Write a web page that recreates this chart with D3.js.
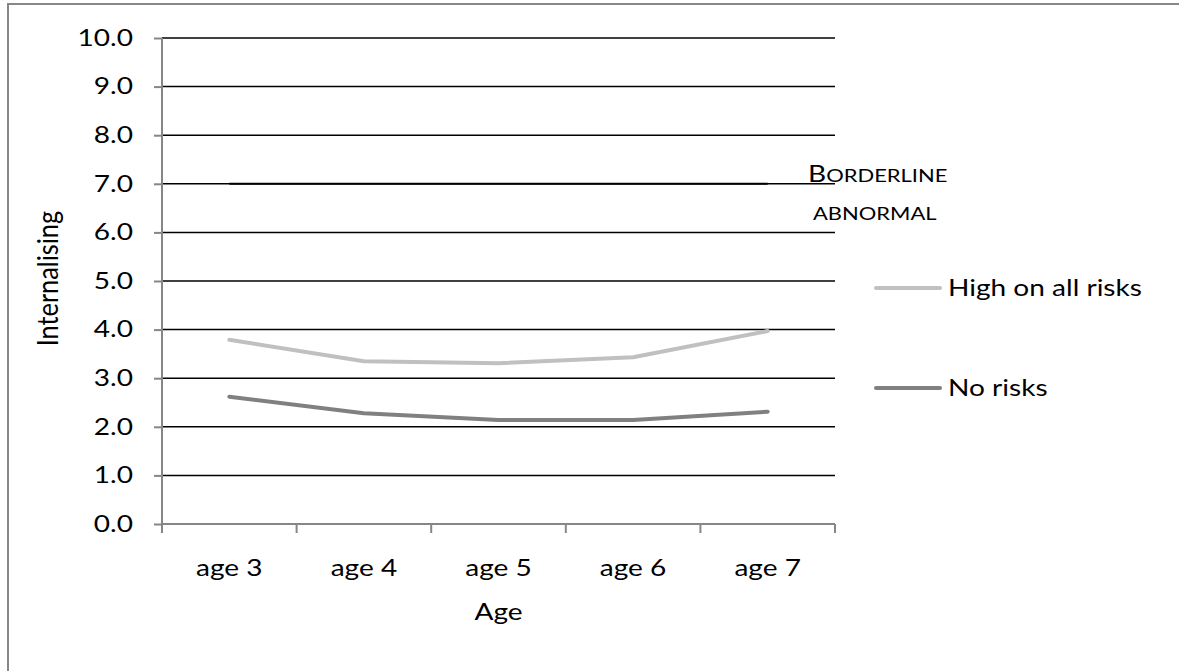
<!DOCTYPE html>
<html>
<head>
<meta charset="utf-8">
<script src="https://cdn.jsdelivr.net/npm/d3@7"></script>
<style>
  body { margin: 0; background: #fff; }
  svg text { font-family: Lato, "Open Sans", sans-serif; fill: #000; }
</style>
</head>
<body>
<svg width="1179" height="671"></svg>
<script>
var ages = ["age 3", "age 4", "age 5", "age 6", "age 7"];
var highRisk = [3.79, 3.35, 3.31, 3.43, 3.97];
var noRisk = [2.62, 2.28, 2.14, 2.14, 2.31];
var borderline = [7.0, 7.0, 7.0, 7.0, 7.0];
var yTicks = [0, 1, 2, 3, 4, 5, 6, 7, 8, 9, 10];

var series = [
  {name: "High on all risks", values: highRisk, color: "#c0c0c0", legendY: 288},
  {name: "No risks", values: noRisk, color: "#808080", legendY: 388}
];

var svg = d3.select("svg"),
    margin = {left: 162, right: 344, top: 38, bottom: 147},
    width = +svg.attr("width"),
    height = +svg.attr("height"),
    stretch = 1.22;  // the source picture is widened, so glyphs are too

var x = d3.scaleBand().domain(ages).range([margin.left, width - margin.right]);
var y = d3.scaleLinear().domain([0, 10]).range([height - margin.bottom, margin.top]);

// chart frame (right and bottom edges fall outside the picture)
svg.append("rect")
    .attr("x", 8).attr("y", 4)
    .attr("width", 1300).attr("height", 720)
    .attr("fill", "none")
    .attr("stroke", "#878787")
    .attr("stroke-width", 2);

// gridlines
svg.append("g")
    .selectAll("line")
    .data(yTicks.filter(function(d) { return d > 0; }))
    .enter()
    .append("line")
    .attr("x1", margin.left)
    .attr("x2", width - margin.right)
    .attr("y1", function(d) { return y(d); })
    .attr("y2", function(d) { return y(d); })
    .attr("stroke", "#000")
    .attr("stroke-width", 1.5);

// y axis
var yAxis = svg.append("g")
    .attr("transform", "translate(" + margin.left + ",0)")
    .call(d3.axisLeft(y).tickValues(yTicks).tickFormat(d3.format(".1f")).tickSize(8));
yAxis.selectAll("path, line").attr("stroke", "#868686").attr("stroke-width", 2);
yAxis.select(".domain").attr("d", "M0," + y(10) + "V" + y(0));
yAxis.selectAll("text")
    .attr("x", 0)
    .attr("transform", "translate(-29,0) scale(" + stretch + ",1)")
    .style("font-size", "23px")
    .attr("fill", "#000");

// x axis with ticks at category boundaries
var xAxisG = svg.append("g")
    .attr("transform", "translate(0," + y(0) + ")");
xAxisG.append("line")
    .attr("x1", margin.left).attr("x2", width - margin.right)
    .attr("stroke", "#868686").attr("stroke-width", 2);
xAxisG.selectAll(".tk")
    .data(ages.concat(["end"]))
    .enter()
    .append("line")
    .attr("class", "tk")
    .attr("x1", function(d, i) { return i < ages.length ? x(d) : x(ages[ages.length - 1]) + x.bandwidth(); })
    .attr("x2", function(d, i) { return i < ages.length ? x(d) : x(ages[ages.length - 1]) + x.bandwidth(); })
    .attr("y1", 0).attr("y2", 9)
    .attr("stroke", "#868686").attr("stroke-width", 2);
xAxisG.selectAll(".lbl")
    .data(ages)
    .enter()
    .append("text")
    .attr("class", "lbl")
    .attr("transform", function(d) {
      return "translate(" + (x(d) + x.bandwidth() / 2) + ",52) scale(" + stretch + ",1)";
    })
    .attr("text-anchor", "middle")
    .style("font-size", "23px")
    .text(function(d) { return d; });

// axis titles
svg.append("text")
    .attr("transform", "translate(" + (x(ages[2]) + x.bandwidth() / 2) + ",620) scale(" + stretch + ",1)")
    .attr("text-anchor", "middle")
    .style("font-size", "23px")
    .text("Age");

svg.append("text")
    .attr("transform", "translate(58," + y(5.05) + ") rotate(-90) scale(1.1," + stretch + ")")
    .attr("text-anchor", "middle")
    .style("font-size", "23px")
    .text("Internalising");

var line = d3.line()
    .x(function(d, i) { return x(ages[i]) + x.bandwidth() / 2; })
    .y(function(d) { return y(d); });

// borderline threshold series
svg.append("path")
    .datum(borderline)
    .attr("d", line)
    .attr("fill", "none")
    .attr("stroke", "#000")
    .attr("stroke-width", 2);

var bl = svg.append("text")
    .attr("transform", "translate(808,182) scale(" + stretch + ",1)")
    .style("font-size", "18px");
bl.append("tspan").style("font-size", "23px").text("B");
bl.append("tspan").text("ORDERLINE");
svg.append("text")
    .attr("transform", "translate(813,220) scale(" + stretch + ",1)")
    .style("font-size", "18px")
    .text("ABNORMAL");

// data series
svg.append("g")
    .selectAll("path")
    .data(series)
    .enter()
    .append("path")
    .attr("d", function(d) { return line(d.values); })
    .attr("fill", "none")
    .attr("stroke", function(d) { return d.color; })
    .attr("stroke-width", 4)
    .attr("stroke-linejoin", "round")
    .attr("stroke-linecap", "round");

// legend
var legend = svg.append("g")
    .selectAll("g")
    .data(series)
    .enter()
    .append("g")
    .attr("transform", function(d) { return "translate(876," + d.legendY + ")"; });
legend.append("line")
    .attr("x1", 0).attr("x2", 64)
    .attr("stroke", function(d) { return d.color; })
    .attr("stroke-width", 4)
    .attr("stroke-linecap", "round");
legend.append("text")
    .attr("transform", "translate(72,0) scale(" + stretch + ",1)")
    .attr("dy", "0.35em")
    .style("font-size", "23px")
    .text(function(d) { return d.name; });
</script>
</body>
</html>
